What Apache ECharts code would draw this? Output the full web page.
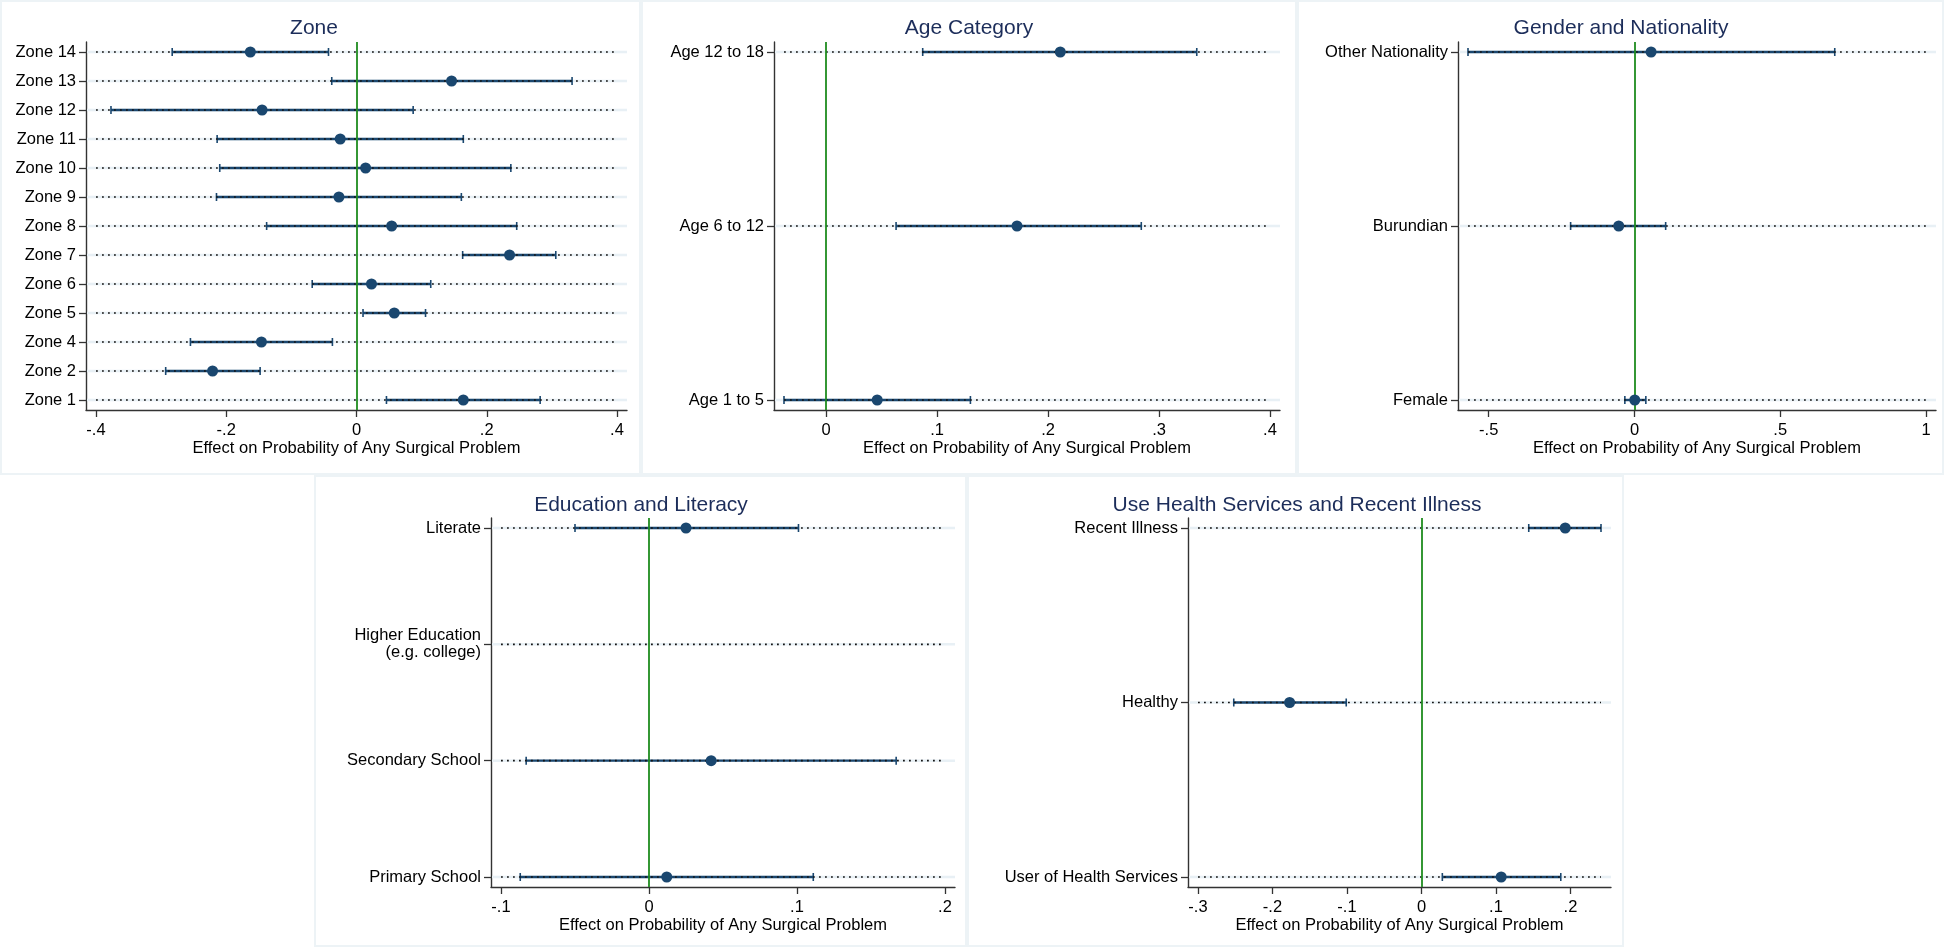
<!DOCTYPE html>
<html><head><meta charset="utf-8">
<script src="https://cdn.jsdelivr.net/npm/echarts@6/dist/echarts.min.js"></script>
<style>html,body{margin:0;padding:0;background:#fff}#c{width:1944px;height:947px}</style>
</head><body><div id="c"></div>
<script>
// ---------- DATA (top row of each panel first) ----------
const zoneCats = ['Zone 14','Zone 13','Zone 12','Zone 11','Zone 10','Zone 9','Zone 8','Zone 7','Zone 6','Zone 5','Zone 4','Zone 2','Zone 1'];
const zoneEst  = [-0.163, 0.146, -0.145, -0.025, 0.014, -0.027, 0.054, 0.235, 0.023, 0.058, -0.146, -0.221, 0.164];
const zoneLo   = [-0.283, -0.038, -0.377, -0.214, -0.210, -0.215, -0.138, 0.163, -0.068, 0.010, -0.255, -0.293, 0.046];
const zoneHi   = [-0.043, 0.331, 0.087, 0.164, 0.237, 0.161, 0.246, 0.306, 0.114, 0.106, -0.037, -0.148, 0.282];
const zoneTicks = [-0.4, -0.2, 0, 0.2, 0.4];

const ageCats = ['Age 12 to 18','Age 6 to 12','Age 1 to 5'];
const ageEst  = [0.211, 0.172, 0.046];
const ageLo   = [0.087, 0.063, -0.038];
const ageHi   = [0.334, 0.284, 0.130];
const ageTicks = [0, 0.1, 0.2, 0.3, 0.4];

const genCats = ['Other Nationality','Burundian','Female'];
const genEst  = [0.057, -0.054, 0.001];
const genLo   = [-0.571, -0.219, -0.033];
const genHi   = [0.687, 0.107, 0.039];
const genTicks = [-0.5, 0, 0.5, 1];

const eduCats = ['Literate','Higher Education\n(e.g. college)','Secondary School','Primary School'];
const eduEst  = [0.025, null, 0.042, 0.012];
const eduLo   = [-0.050, null, -0.083, -0.087];
const eduHi   = [0.101, null, 0.167, 0.111];
const eduTicks = [-0.1, 0, 0.1, 0.2];

const hlthCats = ['Recent Illness','Healthy','User of Health Services'];
const hlthEst  = [0.193, -0.177, 0.107];
const hlthLo   = [0.144, -0.252, 0.028];
const hlthHi   = [0.241, -0.101, 0.187];
const hlthTicks = [-0.3, -0.2, -0.1, 0, 0.1, 0.2];

const panelTitles = ['Zone','Age Category','Gender and Nationality','Education and Literacy','Use Health Services and Recent Illness'];
const axisTitle = 'Effect on Probability of Any Surgical Problem';

// ---------- LAYOUT ----------
const layout = [
  {box:[0,0,641,475],     tx:314,  ty:28,  grid:{left:86,   top:42,  width:541, height:368}},
  {box:[641,0,656,475],   tx:969,  ty:28,  grid:{left:774,  top:42,  width:506, height:368}},
  {box:[1297,0,647,475],  tx:1621, ty:28,  grid:{left:1458, top:42,  width:478, height:368}},
  {box:[314,475,653,472], tx:641,  ty:505, grid:{left:491,  top:518, width:464, height:369}},
  {box:[967,475,657,472], tx:1297, ty:505, grid:{left:1188, top:518, width:423, height:369}}
];
const panelData = [
  {cats:zoneCats, est:zoneEst, lo:zoneLo, hi:zoneHi, ticks:zoneTicks},
  {cats:ageCats,  est:ageEst,  lo:ageLo,  hi:ageHi,  ticks:ageTicks},
  {cats:genCats,  est:genEst,  lo:genLo,  hi:genHi,  ticks:genTicks},
  {cats:eduCats,  est:eduEst,  lo:eduLo,  hi:eduHi,  ticks:eduTicks},
  {cats:hlthCats, est:hlthEst, lo:hlthLo, hi:hlthHi, ticks:hlthTicks}
];

const FONT = "'Liberation Sans', Arial, sans-serif";
const NAVY = '#1a476f';
const fmt = v => { if (Math.abs(v) < 1e-9) return '0'; const s = String(+v.toFixed(4)); return s.replace(/^(-?)0\./, '$1.'); };

const grids = [], xAxes = [], yAxes = [], series = [], graphics = [];

panelData.forEach((p, k) => {
  const L = layout[k];
  const n = p.cats.length;
  const los = p.lo.filter(v => v != null), his = p.hi.filter(v => v != null);
  const dotLo = Math.min(p.ticks[0], ...los);
  const dotHi = Math.max(p.ticks[p.ticks.length - 1], ...his);
  const W = L.grid.width, H = L.grid.height;
  const span = dotHi - dotLo;
  const padX = (span * W / (W - 20) - span) / 2;
  const step = (H - 20) / (n - 1);
  const padY = 10 / step;
  const idx = p.cats.map((c, i) => i);

  grids.push(Object.assign({containLabel:false}, L.grid));
  xAxes.push({
    type:'value', gridIndex:k, min:dotLo - padX, max:dotHi + padX,
    axisLine:{show:true, onZero:false, lineStyle:{color:'#333', width:1.4}},
    axisTick:{show:true, length:7, customValues:p.ticks, lineStyle:{color:'#333', width:1.3}},
    axisLabel:{show:true, customValues:p.ticks, formatter:fmt, margin:12, color:'#000', fontSize:16.5, fontFamily:FONT},
    splitLine:{show:false},
    name:axisTitle, nameLocation:'middle', nameGap:29,
    nameTextStyle:{color:'#000', fontSize:16.5, fontFamily:FONT}
  });
  yAxes.push({
    type:'value', gridIndex:k, inverse:true, min:-padY, max:n - 1 + padY,
    axisLine:{show:true, onZero:false, lineStyle:{color:'#333', width:1.4}},
    axisTick:{show:true, length:7, customValues:idx, lineStyle:{color:'#333', width:1.3}},
    axisLabel:{show:true, customValues:idx, formatter:v => p.cats[Math.round(v)], margin:10,
               color:'#000', fontSize:16.5, lineHeight:17, fontFamily:FONT},
    splitLine:{show:false}
  });

  const rowData = idx.map(i => [dotLo, dotHi, i]);
  // light gridlines + zero line
  series.push({
    type:'custom', xAxisIndex:k, yAxisIndex:k, z:1, silent:true, data:rowData,
    renderItem:(params, api) => {
      const y = api.coord([0, api.value(2)])[1];
      const cs = params.coordSys;
      return {type:'line', shape:{x1:cs.x + 1, y1:y, x2:cs.x + cs.width, y2:y}, style:{stroke:'#e8f0f5', lineWidth:2.5}};
    },
    markLine:{silent:true, symbol:['none','none'], label:{show:false}, animation:false,
      lineStyle:{color:'#1f8c1f', width:1.8, type:'solid'}, data:[{xAxis:0}]}
  });
  // CI bars
  const ciData = idx.filter(i => p.lo[i] != null).map(i => [p.lo[i], p.hi[i], i]);
  series.push({
    type:'custom', xAxisIndex:k, yAxisIndex:k, z:3, silent:true, data:ciData,
    renderItem:(params, api) => {
      const a = api.coord([api.value(0), api.value(2)]);
      const b = api.coord([api.value(1), api.value(2)]);
      const st = {stroke:NAVY, lineWidth:1.6};
      return {type:'group', children:[
        {type:'line', shape:{x1:a[0], y1:a[1], x2:b[0], y2:b[1]}, style:{stroke:NAVY, lineWidth:2.4}},
        {type:'line', shape:{x1:a[0], y1:a[1] - 4, x2:a[0], y2:a[1] + 4}, style:st},
        {type:'line', shape:{x1:b[0], y1:b[1] - 4, x2:b[0], y2:b[1] + 4}, style:st}
      ]};
    }
  });
  // dotted row lines
  series.push({
    type:'custom', xAxisIndex:k, yAxisIndex:k, z:4, silent:true, data:rowData,
    renderItem:(params, api) => {
      const a = api.coord([api.value(0), api.value(2)]);
      const b = api.coord([api.value(1), api.value(2)]);
      return {type:'line', shape:{x1:a[0], y1:a[1], x2:b[0], y2:b[1]},
              style:{stroke:'#151515', lineWidth:1.7, lineDash:[1.8, 4.2]}};
    }
  });
  // point estimates
  series.push({
    type:'scatter', xAxisIndex:k, yAxisIndex:k, z:5, symbol:'circle', symbolSize:11,
    itemStyle:{color:NAVY, opacity:1},
    data:idx.filter(i => p.est[i] != null).map(i => [p.est[i], i])
  });

  graphics.push({type:'rect', shape:{x:L.box[0] + 1, y:L.box[1] + 1, width:L.box[2] - 2, height:L.box[3] - 2},
    style:{fill:'none', stroke:'#edf3f6', lineWidth:2}, z:0, silent:true});
  graphics.push({type:'text', x:L.tx, y:L.ty, style:{text:panelTitles[k], textAlign:'center', textVerticalAlign:'middle',
    fill:'#1c2d5a', fontSize:21, fontFamily:FONT}, silent:true});
});

const chart = echarts.init(document.getElementById('c'), null, {renderer:'canvas'});
chart.setOption({
  animation:false, backgroundColor:'#ffffff',
  grid:grids, xAxis:xAxes, yAxis:yAxes, series:series, graphic:graphics
});
</script></body></html>
